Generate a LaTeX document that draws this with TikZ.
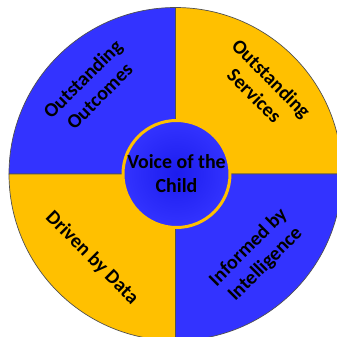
\documentclass[tikz,border=0pt]{standalone}
\usepackage{fontspec}
\setmainfont{Carlito}
\usetikzlibrary{positioning}
\definecolor{wheelblue}{RGB}{51,51,255}
\definecolor{wheelgold}{RGB}{255,192,0}
\definecolor{rimgray}{RGB}{80,80,80}
\definecolor{hubblue}{RGB}{28,28,238}

\begin{document}
\begin{tikzpicture}[x=1bp, y=1bp,
    quarter/.style={draw=rimgray, line width=0.7pt},
    segtext/.style={font=\fontsize{20}{24}\selectfont\bfseries, align=center, text=black},
    hub/.style={circle, draw=wheelgold, line width=3pt, minimum size=107bp,
        inner color=hubblue, outer color=wheelblue, font=\fontsize{20}{24}\selectfont\bfseries,
        align=center, inner sep=0pt}
]
    \useasboundingbox (-175.5,-163) rectangle (161.5,174);

    % four quarters of the wheel
    \filldraw[quarter, fill=wheelblue] (0,0) -- (180:166.5) arc[start angle=180, end angle=90, radius=166.5] -- cycle;
    \filldraw[quarter, fill=wheelgold] (0,0) -- (90:166.5) arc[start angle=90, end angle=0, radius=166.5] -- cycle;
    \filldraw[quarter, fill=wheelblue] (0,0) -- (0:166.5) arc[start angle=0, end angle=-90, radius=166.5] -- cycle;
    \filldraw[quarter, fill=wheelgold] (0,0) -- (-90:166.5) arc[start angle=-90, end angle=-180, radius=166.5] -- cycle;

    \node[segtext, rotate=45]  (outcomes)     at (-84.5, 86.5) {Outstanding\\Outcomes};
    \node[segtext, rotate=-45] (services)     at (87.5, 87)    {Outstanding\\Services};
    \node[segtext, rotate=-45] (data)         at (-83.5,-84)   {Driven by Data};
    \node[segtext, rotate=45]  (intelligence) at (81.5,-82)    {Informed by\\Intelligence};

    % centre disc
    \node[hub] (child) at (1,0) {Voice of the\\Child};
\end{tikzpicture}
\end{document}
